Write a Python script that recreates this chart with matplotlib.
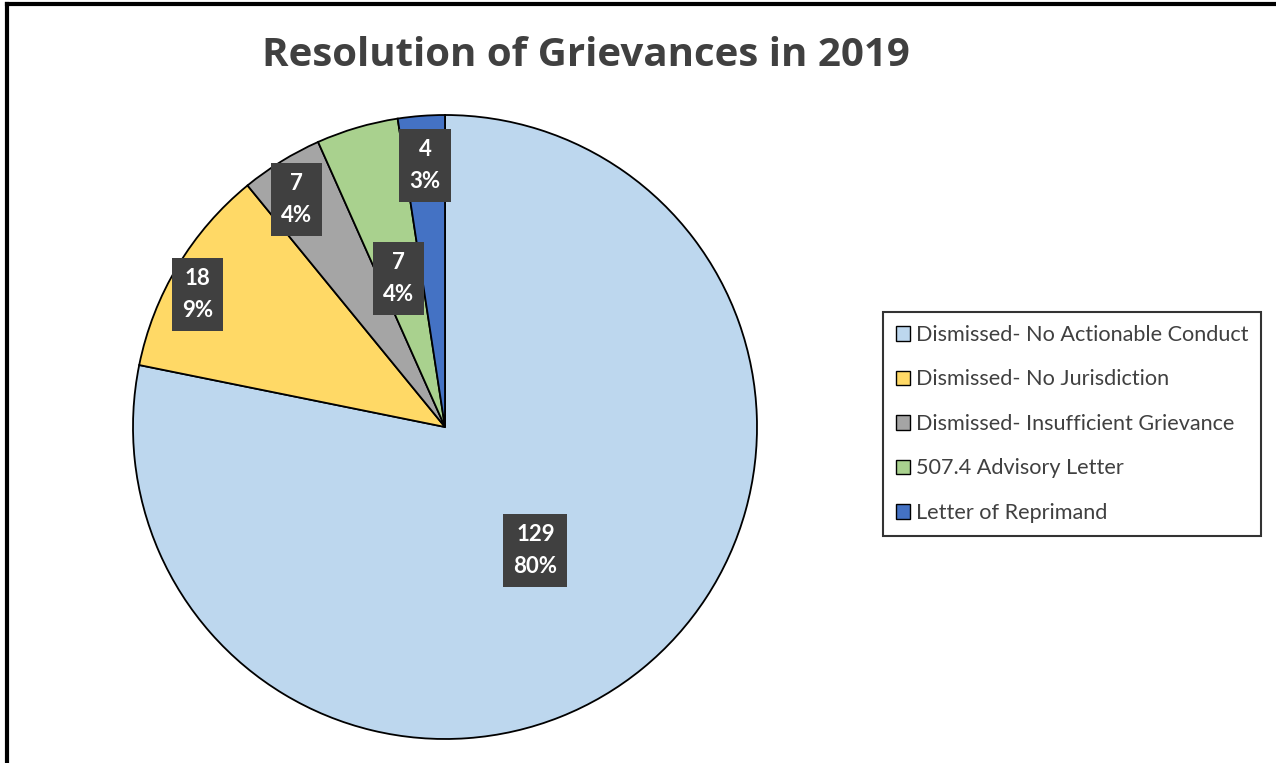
import numpy as np
import matplotlib.pyplot as plt
from matplotlib.lines import Line2D
from matplotlib.patches import Patch

# data
categories = ['Dismissed- No Actionable Conduct', 'Dismissed- No Jurisdiction',
              'Dismissed- Insufficient Grievance', '507.4 Advisory Letter',
              'Letter of Reprimand']
counts = [129, 18, 7, 7, 4]
pct_labels = ['80%', '9%', '4%', '4%', '3%']
colors = ['#BDD7EE', '#FFD966', '#A5A5A5', '#A9D18E', '#4472C4']
label_radius = [0.49, 0.90, 0.87, 0.50, 0.84]
label_shift = [-3, 3, 1.5, 1, 0]   # degrees, best-fit nudges

W, H = 1276, 763
fig = plt.figure(figsize=(W / 100, H / 100), dpi=100)
fig.patch.set_facecolor('white')

# pie centre (445, 427) px, radius 312 px
cx, cy, r = 445, 427, 312
ax = fig.add_axes([(cx - r) / W, (H - cy - r) / H, 2 * r / W, 2 * r / H])

wedges, _ = ax.pie(counts, colors=colors, startangle=90, counterclock=False,
                   radius=1.0, wedgeprops=dict(edgecolor='black', linewidth=1.3))
# pie() sets its own limits, so fix them afterwards
ax.set_xlim(-1, 1)
ax.set_ylim(-1, 1)
ax.set_aspect('equal')
ax.axis('off')

for w, n, p, rr, sh in zip(wedges, counts, pct_labels, label_radius, label_shift):
    mid = np.deg2rad((w.theta1 + w.theta2) / 2 + sh)
    x, y = rr * np.cos(mid), rr * np.sin(mid)
    ax.text(x, y, f'{n}\n{p}', ha='center', va='center', color='white',
            fontsize=16, fontweight='bold', family='Lato', linespacing=1.65,
            bbox=dict(boxstyle='square,pad=0.45', fc='#404040', ec='none'))

fig.text(586 / W, 1 - 55 / H, 'Resolution of Grievances in 2019', ha='center',
         va='center', fontsize=29, fontweight='bold', color='#404040',
         family='Open Sans')

handles = [Patch(facecolor=c, edgecolor='black', linewidth=1.0) for c in colors]
leg = fig.legend(handles, categories, loc='upper left',
                 bbox_to_anchor=(883 / W, 1 - 312 / H), frameon=True,
                 fancybox=False, edgecolor='black',
                 prop={'family': 'Lato', 'size': 15.6},
                 handlelength=0.65, handleheight=0.65, handletextpad=0.25,
                 labelspacing=1.13, borderpad=0.6, borderaxespad=0)
leg.get_frame().set_linewidth(1.5)
for t in leg.get_texts():
    t.set_color('#404040')

# outer frame lines
fig.add_artist(Line2D([7 / W, 7 / W], [0, 1 - 4 / H], color='black', lw=3,
                      transform=fig.transFigure))
fig.add_artist(Line2D([7 / W, 1], [1 - 4 / H, 1 - 4 / H], color='black', lw=3,
                      transform=fig.transFigure))

fig.savefig('out.png', dpi=100)
